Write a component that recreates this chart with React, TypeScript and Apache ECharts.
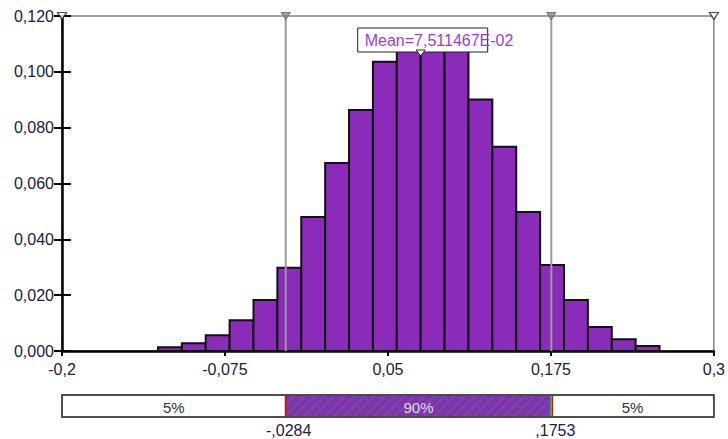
import React, { useEffect, useRef } from "react";
import * as echarts from "echarts";

// ---- data ----
const binStart = -0.1264;
const binWidth = 0.01832;
const densities = [
  0.0013, 0.0028, 0.0056, 0.011, 0.0183, 0.0298, 0.048, 0.0673, 0.0863, 0.1036,
  0.108, 0.111, 0.109, 0.0901, 0.0732, 0.0498, 0.0308, 0.0183, 0.0086, 0.0042, 0.0018,
];
const xMin = -0.2;
const xMax = 0.3;
const xStep = 0.125;
const yMin = 0;
const yMax = 0.12;
const yStep = 0.02;
const lowerBound = -0.0284;
const upperBound = 0.1753;
const meanValue = 0.07511467;
const meanLabel = "Mean=7,511467E-02";
const bandLabels = ["5%", "90%", "5%"];
const boundLabels = ["-,0284", ",1753"];

const FONT = "'Liberation Sans', Arial, sans-serif";

export default function App() {
  const ref = useRef<HTMLDivElement>(null);

  useEffect(() => {
    if (!ref.current) return;
    const chart = echarts.init(ref.current, undefined, { renderer: "svg" });
    const binData = densities.map((d, i) => [
      binStart + i * binWidth,
      binStart + (i + 1) * binWidth,
      d,
    ]);
    const fmtX = (v: number) => String(parseFloat(v.toFixed(4))).replace(".", ",");
    const fmtY = (v: number) => v.toFixed(3).replace(".", ",");

    chart.setOption({
      animation: false,
      grid: {
        left: 62,
        right: 14,
        top: 16,
        bottom: 88,
        show: true,
        borderColor: "#444",
        borderWidth: 1,
        backgroundColor: "#fff",
      },
      xAxis: {
        type: "value",
        min: xMin,
        max: xMax,
        interval: xStep,
        axisLine: { show: true, onZero: false, lineStyle: { color: "#000", width: 2.5 } },
        axisTick: { show: true, inside: false, length: 5, lineStyle: { color: "#000", width: 2 } },
        axisLabel: {
          formatter: fmtX,
          fontSize: 16,
          color: "#202040",
          fontFamily: FONT,
          margin: 10,
          showMinLabel: true,
          showMaxLabel: true,
        },
        splitLine: { show: false },
      },
      yAxis: [
        {
          type: "value",
          min: yMin,
          max: yMax,
          interval: yStep,
          axisLine: { show: true, onZero: false, lineStyle: { color: "#000", width: 2.5 } },
          axisTick: { show: true, inside: false, length: 8, lineStyle: { color: "#000", width: 2 } },
          axisLabel: { formatter: fmtY, fontSize: 16, color: "#202040", fontFamily: FONT, margin: 8 },
          splitLine: { show: false },
        },
        {
          type: "value",
          position: "left",
          min: yMin,
          max: yMax,
          interval: yStep,
          axisLine: { show: false, onZero: false },
          axisTick: { show: true, inside: true, length: 9, lineStyle: { color: "#000", width: 2 } },
          axisLabel: { show: false },
          splitLine: { show: false },
        },
      ],
      series: [
        {
          type: "custom",
          data: binData,
          encode: { x: [0, 1], y: 2 },
          z: 2,
          renderItem: (params: any, api: any) => {
            const p0 = api.coord([api.value(0), api.value(2)]);
            const p1 = api.coord([api.value(1), 0]);
            return {
              type: "rect",
              shape: { x: p0[0], y: p0[1], width: p1[0] - p0[0], height: p1[1] - p0[1] },
              style: { fill: "#8A2BBA", stroke: "#111", lineWidth: 2 },
            };
          },
        },
        {
          type: "line",
          data: [[lowerBound, yMin], [lowerBound, yMax]],
          symbol: "none",
          lineStyle: { color: "#9a9a9a", width: 2 },
          z: 5,
        },
        {
          type: "line",
          data: [[upperBound, yMin], [upperBound, yMax]],
          symbol: "none",
          lineStyle: { color: "#9a9a9a", width: 2 },
          z: 5,
        },
        {
          type: "scatter",
          data: [[lowerBound, yMax], [upperBound, yMax]],
          symbol: "triangle",
          symbolRotate: 180,
          symbolSize: [9, 7],
          clip: false,
          itemStyle: { color: "#888", borderColor: "#666", borderWidth: 1 },
          z: 6,
        },
        {
          type: "scatter",
          data: [[xMin, yMax], [xMax, yMax]],
          symbol: "triangle",
          symbolRotate: 180,
          symbolSize: [9, 7],
          clip: false,
          itemStyle: { color: "#fff", borderColor: "#222", borderWidth: 1.2 },
          z: 6,
        },
      ],
    });

    const px = (x: number) => chart.convertToPixel({ gridIndex: 0 }, [x, 0])[0];
    const xa = px(xMin);
    const xb = px(xMax);
    const xl = px(lowerBound);
    const xu = px(upperBound);
    const xm = px(meanValue);
    const barTop = 395;
    const barH = 22;
    const barBottom = barTop + barH;

    const hatch: any[] = [];
    for (let x = xl - barH; x < xu; x += 10) {
      const tMin = Math.max(0, (xl - x) / barH);
      const tMax = Math.min(1, (xu - x) / barH);
      if (tMin < tMax) {
        hatch.push({
          type: "line",
          shape: {
            x1: x + barH * tMin,
            y1: barBottom - barH * tMin,
            x2: x + barH * tMax,
            y2: barBottom - barH * tMax,
          },
          style: { stroke: "#2f9a55", lineWidth: 1 },
          z: 11,
        });
      }
    }

    chart.setOption({
      graphic: [
        // mean label
        {
          type: "rect",
          shape: { x: xm - 63, y: 28, width: 130, height: 24 },
          style: { fill: "#fff", stroke: "#222", lineWidth: 1 },
          z: 20,
        },
        {
          type: "text",
          x: xm - 56,
          y: 40,
          style: {
            text: meanLabel,
            fill: "#9b3dd4",
            font: `16px ${FONT}`,
            verticalAlign: "middle",
            align: "left",
          },
          z: 21,
        },
        {
          type: "polygon",
          shape: { points: [[xm - 4.5, 50], [xm + 4.5, 50], [xm, 56]] },
          style: { fill: "#fff", stroke: "#222", lineWidth: 1 },
          z: 22,
        },
        // bottom band
        {
          type: "rect",
          shape: { x: xa, y: barTop, width: xb - xa, height: barH },
          style: { fill: "#fff", stroke: "#444", lineWidth: 1.5 },
          z: 10,
        },
        {
          type: "rect",
          shape: { x: xl, y: barTop, width: xu - xl, height: barH },
          style: { fill: "#8A2BBA", stroke: "none" },
          z: 10,
        },
        ...hatch,
        {
          type: "line",
          shape: { x1: xl, y1: barTop, x2: xl, y2: barBottom },
          style: { stroke: "#cc1111", lineWidth: 2 },
          z: 12,
        },
        {
          type: "line",
          shape: { x1: xu - 1, y1: barTop, x2: xu - 1, y2: barBottom },
          style: { stroke: "#2f9a55", lineWidth: 1.5 },
          z: 12,
        },
        {
          type: "line",
          shape: { x1: xu + 1, y1: barTop, x2: xu + 1, y2: barBottom },
          style: { stroke: "#cc1111", lineWidth: 1.5 },
          z: 12,
        },
        {
          type: "rect",
          shape: { x: xa, y: barTop, width: xb - xa, height: barH },
          style: { fill: "none", stroke: "#444", lineWidth: 1.5 },
          z: 13,
        },
        {
          type: "text",
          x: (xa + xl) / 2,
          y: barTop + barH / 2 + 1,
          style: { text: bandLabels[0], fill: "#333", font: `15px ${FONT}`, align: "center", verticalAlign: "middle" },
          z: 14,
        },
        {
          type: "text",
          x: (xl + xu) / 2,
          y: barTop + barH / 2 + 1,
          style: { text: bandLabels[1], fill: "#e6d8f2", font: `15px ${FONT}`, align: "center", verticalAlign: "middle" },
          z: 14,
        },
        {
          type: "text",
          x: (xu + xb) / 2,
          y: barTop + barH / 2 + 1,
          style: { text: bandLabels[2], fill: "#333", font: `15px ${FONT}`, align: "center", verticalAlign: "middle" },
          z: 14,
        },
        {
          type: "text",
          x: xl + 3,
          y: 430,
          style: { text: boundLabels[0], fill: "#202040", font: `16px ${FONT}`, align: "center", verticalAlign: "middle" },
          z: 14,
        },
        {
          type: "text",
          x: xu + 4,
          y: 430,
          style: { text: boundLabels[1], fill: "#202040", font: `16px ${FONT}`, align: "center", verticalAlign: "middle" },
          z: 14,
        },
      ],
    });

    return () => chart.dispose();
  }, []);

  return (
    <div
      ref={ref}
      style={{ position: "absolute", left: 0, top: 0, width: 728, height: 439, background: "#fff" }}
    />
  );
}
